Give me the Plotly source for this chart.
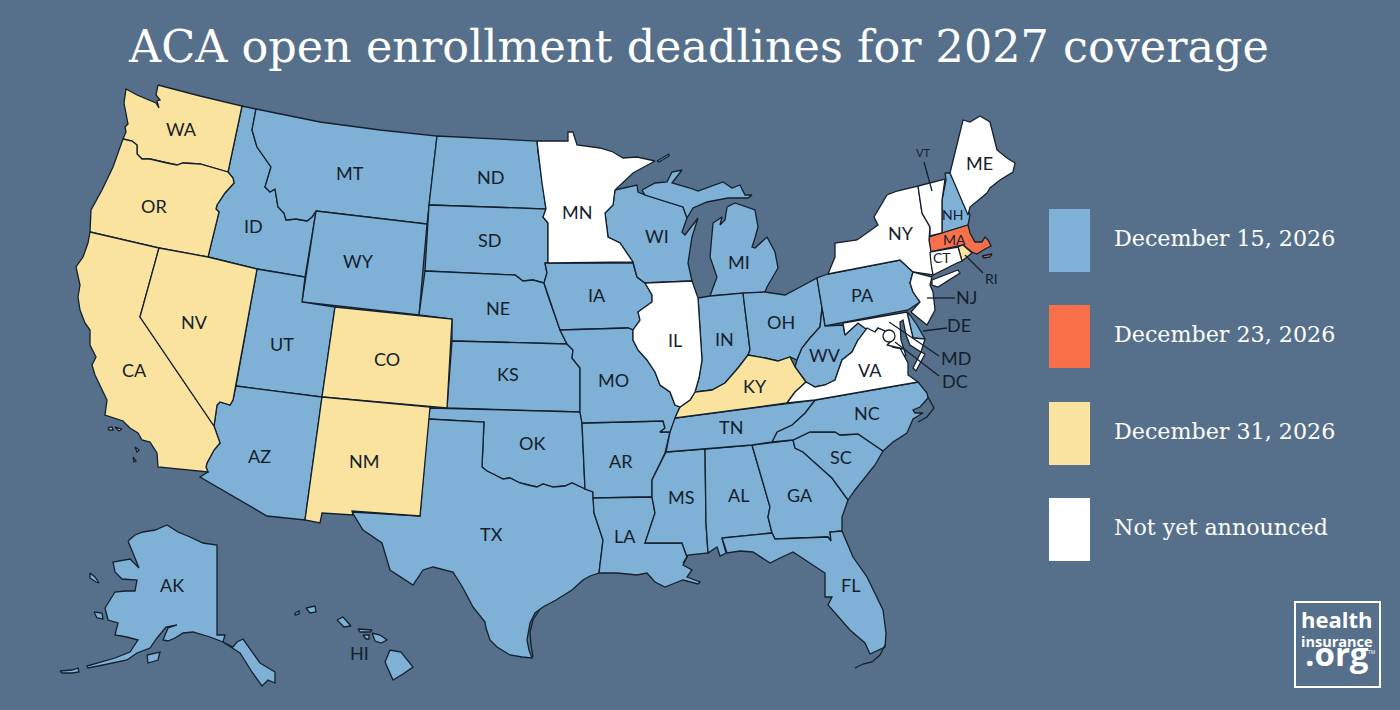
from plotly import graph_objects as go

# state outlines (no topojson without network), x/y pairs on a 1400x710 sheet
WA = [(158,85),(200,96),(242,106),(228,172),(200,164),(183,163),(177,165),(167,163),(150,159),(142,159),(137,154),(137,145),(132,141),(123,139),(126,132),(125,127),(128,124),(124,103),(126,89),(137,95),(150,101),(156,103),(159,108),(157,101),(160,100),(156,95)]
OR = [(123,139),(132,141),(137,145),(137,154),(142,159),(150,159),(167,163),(177,165),(183,163),(200,164),(228,172),(233,178),(234,183),(225,193),(217,205),(216,209),(219,212),(208,257),(159,248),(90,232),(91,210),(102,190),(113,167)]
CA = [(90,232),(159,248),(140,317),(214,426),(220,443),(214,450),(207,463),(206,467),(208,472),(158,467),(157,453),(150,442),(142,440),(138,433),(130,428),(123,421),(105,415),(107,400),(95,375),(92,365),(96,357),(90,345),(90,330),(85,323),(80,310),(78,297),(80,285),(76,267),(83,257),(88,243)]
NV = [(159,248),(208,257),(257,269),(233,400),(230,405),(220,402),(217,405),(214,426),(140,317)]
ID = [(242,106),(256,109),(252,130),(257,147),(271,167),(265,187),(270,192),(275,189),(278,207),(284,213),(286,220),(296,219),(307,221),(312,217),(316,211),(305,277),(257,269),(208,257),(219,212),(216,209),(217,205),(225,193),(234,183),(233,178),(228,172)]
MT = [(256,109),(320,122),(380,130),(437,136),(427,224),(316,211),(312,217),(307,221),(296,219),(286,220),(284,213),(278,207),(275,189),(270,192),(265,187),(271,167),(257,147),(252,130)]
ND = [(437,136),(537,141),(538,152),(542,183),(546,209),(429,205)]
SD = [(429,205),(546,209),(543,217),(548,223),(548,263),(545,263),(547,273),(544,283),(533,280),(523,281),(515,275),(425,271)]
WY = [(316,211),(427,224),(419,315),(302,302)]
NE = [(425,271),(515,275),(523,281),(533,280),(544,283),(547,293),(553,310),(560,330),(567,344),(452,341),(452,319),(419,315)]
CO = [(335,307),(452,319),(447,408),(322,397)]
UT = [(257,269),(305,277),(302,302),(335,307),(322,397),(236,386)]
AZ = [(236,386),(322,397),(305,520),(267,516),(200,477),(208,472),(206,467),(207,463),(214,450),(220,443),(214,426),(217,405),(220,402),(230,405),(233,400)]
NM = [(322,397),(430,407),(420,516),(352,511),(353,515),(322,513),(320,523),(305,520)]
KS = [(452,341),(567,344),(573,350),(572,358),(580,368),(580,412),(447,408)]
OK = [(430,408),(580,412),(582,423),(585,489),(572,483),(565,486),(553,487),(543,484),(537,487),(528,485),(520,483),(510,478),(503,479),(495,475),(487,471),(482,467),(484,422),(428,419)]
TX = [(428,419),(484,422),(482,467),(487,471),(495,475),(503,479),(510,478),(520,483),(528,485),(537,487),(543,484),(553,487),(565,486),(572,483),(585,489),(593,492),(594,513),(603,540),(599,573),(590,576),(583,580),(572,590),(556,600),(543,607),(535,613),(530,623),(527,640),(529,650),(532,658),(522,657),(510,655),(497,647),(490,640),(486,628),(485,622),(473,607),(463,588),(453,572),(433,567),(423,570),(413,585),(390,570),(382,543),(363,530),(352,512),(420,516)]
AR = [(582,423),(663,421),(665,428),(660,432),(670,432),(665,453),(652,480),(652,497),(593,498),(593,492),(585,489)]
LA = [(593,498),(652,497),(655,513),(645,543),(682,543),(687,557),(683,565),(692,570),(687,577),(700,582),(698,584),(683,580),(675,583),(665,587),(655,582),(647,573),(637,575),(617,573),(599,573),(603,540),(594,513)]
MS = [(666,452),(705,449),(706,523),(708,553),(688,555),(683,563),(687,557),(682,543),(645,543),(655,513),(652,497),(652,480)]
AL = [(705,449),(752,445),(770,507),(768,517),(772,533),(722,538),(726,553),(720,556),(717,547),(708,553),(706,523)]
GA = [(752,445),(793,440),(795,448),(803,452),(832,478),(848,500),(842,517),(842,531),(830,532),(831,541),(828,537),(775,539),(772,533),(768,517),(770,507)]
FL = [(722,538),(772,533),(775,539),(828,537),(831,541),(830,532),(842,531),(853,557),(867,577),(883,610),(886,633),(885,647),(870,654),(865,643),(850,630),(833,610),(828,605),(832,597),(825,597),(825,573),(810,563),(793,552),(780,558),(770,563),(753,552),(740,551),(727,553)]
SC = [(793,440),(810,432),(835,432),(840,435),(858,434),(883,451),(875,465),(855,490),(848,500),(832,478),(803,452),(795,448)]
NC = [(815,400),(918,382),(927,393),(928,398),(920,407),(913,410),(915,413),(923,413),(913,419),(907,433),(893,442),(883,451),(858,434),(840,435),(835,432),(810,432),(793,440),(772,442),(777,432),(792,425),(805,413)]
TN = [(675,418),(787,403),(815,400),(805,413),(792,425),(777,432),(772,442),(752,445),(705,449),(666,452),(670,432),(673,418)]
KY = [(675,418),(680,407),(690,400),(695,392),(712,390),(725,383),(738,368),(748,355),(765,358),(778,361),(790,357),(795,367),(806,382),(795,392),(787,403)]
IL = [(645,283),(692,281),(698,298),(702,360),(699,378),(695,392),(690,400),(680,407),(675,405),(670,392),(660,385),(655,372),(647,360),(638,350),(633,340),(633,330),(640,320),(638,312),(652,302),(652,295)]
IA = [(545,263),(633,263),(637,277),(645,283),(652,295),(652,302),(638,312),(640,320),(633,330),(628,328),(560,330),(553,310),(547,293),(544,283),(547,273)]
MO = [(560,330),(628,328),(633,330),(633,340),(638,350),(647,360),(655,372),(660,385),(670,392),(675,405),(680,407),(675,418),(670,432),(660,432),(665,428),(663,421),(582,423),(580,412),(580,368),(572,358),(573,350),(567,344)]
MN = [(537,141),(568,141),(568,132),(573,132),(577,145),(600,148),(613,152),(623,158),(637,157),(655,161),(633,173),(615,190),(613,205),(605,213),(608,237),(620,243),(633,262),(548,263),(548,223),(543,217),(546,209),(542,183)]
WI = [(615,190),(637,185),(638,192),(645,195),(683,207),(687,218),(682,232),(685,235),(698,218),(692,237),(688,263),(692,281),(645,283),(637,277),(633,262),(620,243),(608,237),(605,213),(613,205)]
MI_UP = [(642,190),(655,183),(667,182),(672,172),(682,170),(672,183),(690,188),(698,191),(723,182),(732,188),(740,185),(745,195),(752,195),(748,198),(728,198),(707,202),(693,208),(687,218),(683,207),(645,195)]
MI_LP = [(727,207),(735,203),(755,210),(758,227),(755,238),(752,247),(755,248),(767,237),(775,252),(778,268),(767,287),(765,292),(710,296),(717,277),(710,257),(713,223),(722,217),(720,225),(725,220)]
IN = [(698,298),(710,296),(743,293),(750,350),(748,355),(738,368),(725,383),(712,390),(695,392),(699,378),(702,360)]
OH = [(743,293),(765,292),(785,295),(817,278),(822,308),(820,327),(810,338),(802,348),(797,360),(790,357),(778,361),(765,358),(748,355),(750,350)]
PA = [(828,274),(900,260),(913,272),(910,283),(913,292),(920,302),(908,310),(825,326),(817,278)]
WV = [(822,308),(825,326),(843,325),(845,335),(858,323),(866,329),(875,332),(878,328),(867,340),(858,340),(852,352),(842,360),(835,380),(825,385),(815,387),(806,382),(795,367),(797,360),(802,348),(810,338),(820,327)]
VA = [(787,403),(795,392),(806,382),(815,387),(825,385),(835,380),(842,360),(852,352),(858,340),(867,328),(875,332),(878,328),(887,332),(892,340),(887,345),(900,348),(908,363),(908,375),(918,382),(815,400)]
VA_SHORE = [(921,352),(925,354),(916,371),(913,368)]
MD = [(843,323),(907,312),(913,338),(925,339),(921,352),(910,345),(906,335),(903,320),(900,322),(901,340),(906,356),(895,352),(887,345),(892,340),(887,332),(878,328),(875,332),(866,329),(858,323),(845,335)]
DE = [(907,312),(910,315),(917,325),(925,339),(913,338)]
NJ = [(913,272),(932,277),(930,285),(933,292),(935,310),(927,325),(917,317),(911,312),(920,302),(913,292),(910,283)]
NY = [(828,274),(835,257),(835,243),(857,240),(878,225),(874,217),(887,195),(897,191),(918,186),(922,213),(930,227),(929,240),(931,252),(933,275),(913,272),(900,260)]
LONG_ISLAND = [(932,280),(958,270),(960,273),(938,287),(932,285)]
VT = [(918,186),(945,179),(942,200),(942,233),(930,236),(930,227),(922,213)]
NH = [(945,173),(950,173),(970,215),(968,225),(942,233),(942,200),(946,180)]
ME = [(950,173),(963,120),(970,122),(980,116),(990,122),(997,150),(1007,158),(1015,163),(1013,172),(1000,180),(990,188),(987,193),(970,207),(968,215)]
MA = [(929,237),(968,225),(970,233),(975,242),(982,242),(985,237),(988,240),(991,246),(985,249),(977,254),(972,252),(963,245),(930,252)]
RI = [(958,247),(963,245),(972,253),(962,261)]
CT = [(930,252),(958,247),(962,261),(957,263),(933,275),(931,263)]
AK = [(128,541),(135,535),(143,532),(155,530),(167,525),(178,532),(190,537),(203,543),(217,545),(217,635),(225,635),(223,642),(233,647),(237,642),(243,639),(260,663),(275,672),(275,683),(268,680),(262,686),(252,672),(240,653),(223,642),(210,637),(193,632),(183,633),(175,638),(168,641),(163,640),(168,628),(177,625),(166,627),(157,638),(150,648),(137,653),(127,660),(103,665),(88,668),(87,666),(115,658),(130,652),(138,640),(127,637),(115,635),(118,623),(108,620),(105,608),(115,592),(125,591),(135,591),(137,580),(122,579),(115,572),(113,562),(130,559),(139,568),(135,558)]
ST_LAWRENCE = [(90,573),(95,577),(99,583),(96,582),(90,578)]
NUNIVAK = [(94,612),(102,613),(103,619),(97,618)]
KODIAK = [(147,655),(160,652),(158,660),(148,663)]
ALEUTIAN = [(60,671),(72,670),(78,668),(79,672),(72,673),(62,673)]
KAUAI = [(306,608),(315,606),(316,612),(310,613)]
NIIHAU = [(295,613),(299,611),(299,614),(295,615)]
OAHU = [(337,620),(343,617),(351,626),(344,627)]
MOLOKAI = [(358,629),(372,630),(370,632),(360,632)]
LANAI = [(363,635),(369,635),(369,639),(366,639)]
MAUI = [(372,633),(380,635),(387,640),(381,643),(375,641)]
BIG_ISLAND = [(390,650),(401,652),(413,667),(403,674),(393,680),(385,662)]
ISLE_ROYALE = [(657,161),(669,154),(669,156),(659,162)]
CHANNEL_A = [(108,428),(112,427),(113,430),(109,430)]
CHANNEL_B = [(115,427),(122,429),(119,431)]
CHANNEL_C = [(135,447),(139,450),(137,452)]
CHANNEL_D = [(133,457),(136,461),(134,462)]
NANTUCKET = [(982,256),(992,254),(990,257),(984,258)]

# thin open lines off the coast
PADRE = [(540,609),(533,620),(530,632),(531,645),(533,657)]
FL_KEYS = [(855,668),(863,664),(872,662),(880,655),(885,645)]
OUTER_BANKS = [(928,397),(934,408),(927,417),(918,422)]

# deadline groups
dec15_states = ["ID","MT","ND","SD","WY","NE","UT","AZ","KS","OK","TX","AR","LA","MS","AL","GA","FL","SC","NC","TN","IA","MO","WI","MI_UP","MI_LP","IN","OH","PA","WV","DE","NH","AK","ST_LAWRENCE","NUNIVAK","KODIAK","ALEUTIAN","KAUAI","NIIHAU","OAHU","MOLOKAI","LANAI","MAUI","BIG_ISLAND","ISLE_ROYALE"]
dec23_states = ["MA","NANTUCKET"]
dec31_states = ["WA","OR","CA","NV","CO","NM","KY","RI","CHANNEL_A","CHANNEL_B","CHANNEL_C","CHANNEL_D"]
open_states = ["MN","IL","NY","LONG_ISLAND","VT","ME","CT","NJ","MD","VA","VA_SHORE"]

# label text with its spot on the sheet
label_names = ["WA","MT","OR","ID","WY","ND","SD","NE","MN","WI","MI","IA","IL","IN","OH","PA","NY","ME","VA","WV","KY","TN","NC","SC","GA","AL","MS","AR","LA","FL","TX","OK","KS","MO","NM","CO","UT","AZ","NV","CA","AK","HI","NJ","DE","MD","DC"]
label_x = [181,350,154,253,358,490,489,498,577,657,739,597,675,724,781,862,901,979,870,825,755,731,867,841,800,738,681,621,625,850,491,532,508,613,364,387,282,259,194,134,172,359,966,959,956,955]
label_y = [129,173,206,226,261,177,240,308,212,236,262,295,340,339,322,295,233,163,370,355,386,427,413,457,495,495,497,461,536,585,534,443,374,380,461,359,344,456,322,370,585,653,297,325,358,381]
small_names = ["VT","NH","MA","CT","RI"]
small_x = [923,952,954,942,991]
small_y = [152,214,239,257,278]
small_size = [11,14,14,14,14]

legend_labels = ["December 15, 2026","December 23, 2026","December 31, 2026","Not yet announced"]
legend_y = [238,334,431,527]

BG = "#56708C"
BLUE = "#7FB0D5"
ORANGE = "#F7704A"
YELLOW = "#FAE39F"
WHITE = "#FFFFFF"
INK = "#14202C"
legend_colors = [BLUE, ORANGE, YELLOW, WHITE]


def _get_state_trace(outline, color):
    xs = [p[0] for p in outline] + [outline[0][0]]
    ys = [p[1] for p in outline] + [outline[0][1]]
    return go.Scatter(
        x = xs,
        y = ys,
        mode = "lines",
        fill = "toself",
        fillcolor = color,
        line = dict(color=INK, width=1.3),
        hoverinfo = "skip",
        showlegend = False,
    )


def _get_line_trace(points):
    return go.Scatter(
        x = [p[0] for p in points],
        y = [p[1] for p in points],
        mode = "lines",
        line = dict(color=INK, width=1.3),
        hoverinfo = "skip",
        showlegend = False,
    )


fig = go.Figure()

for names, color in [(dec15_states, BLUE), (dec23_states, ORANGE), (dec31_states, YELLOW), (open_states, WHITE)]:
    for name in names:
        fig.add_trace(_get_state_trace(globals()[name], color))

for points in [PADRE, FL_KEYS, OUTER_BANKS]:
    fig.add_trace(_get_line_trace(points))

# DC circle
fig.add_shape(type="circle", x0=883, x1=895, y0=330, y1=342, fillcolor=WHITE, line=dict(color=INK, width=1.3))

# leader lines
for seg in [[(924,162),(932,191)], [(965,255),(983,273)], [(927,298),(955,298)], [(923,331),(947,328)], [(889,322),(939,356)], [(895,342),(939,376)], [(892,347),(903,349)]]:
    fig.add_trace(_get_line_trace(seg))

annotations = []
for name, x, y in zip(label_names, label_x, label_y):
    annotations.append(dict(x=x, y=y, text=name, showarrow=False, font=dict(family="Lato", size=18, color=INK)))
for name, x, y, size in zip(small_names, small_x, small_y, small_size):
    annotations.append(dict(x=x, y=y, text=name, showarrow=False, font=dict(family="Lato", size=size, color=INK)))

annotations.append(dict(x=698, y=46, text="ACA open enrollment deadlines for 2027 coverage", showarrow=False,
                        font=dict(family="DejaVu Serif", size=44.5, color=WHITE)))

for text, y, color in zip(legend_labels, legend_y, legend_colors):
    fig.add_shape(type="rect", x0=1049, x1=1090, y0=y-29, y1=y+34, fillcolor=color, line=dict(width=0))
    annotations.append(dict(x=1112, y=y, text=text, xanchor="left", showarrow=False,
                            font=dict(family="DejaVu Serif", size=22.2, color=WHITE)))

# logo
fig.add_shape(type="rect", x0=1295, x1=1380, y0=602, y1=687, line=dict(color=WHITE, width=2))
annotations.append(dict(
    x=1337, y=640,
    text="<b><span style='font-size:22px'>health</span><br>insurance<br><span style='font-size:33px'>.org</span></b>",
    showarrow=False,
    font=dict(family="Open Sans", size=14.5, color=WHITE),
))
annotations.append(dict(x=1372, y=652, text="TM", showarrow=False, font=dict(family="Open Sans", size=5, color=WHITE)))

fig.update_layout(
    width = 1400,
    height = 710,
    margin = dict(l=0, r=0, t=0, b=0),
    paper_bgcolor = BG,
    plot_bgcolor = BG,
    xaxis = dict(range=[0, 1400], visible=False),
    yaxis = dict(range=[710, 0], visible=False),
    annotations = annotations,
    showlegend = False,
)

fig.write_html("out.html", config=dict(displayModeBar=False), post_script="document.body.style.margin='0';document.body.style.background='%s';" % BG)
